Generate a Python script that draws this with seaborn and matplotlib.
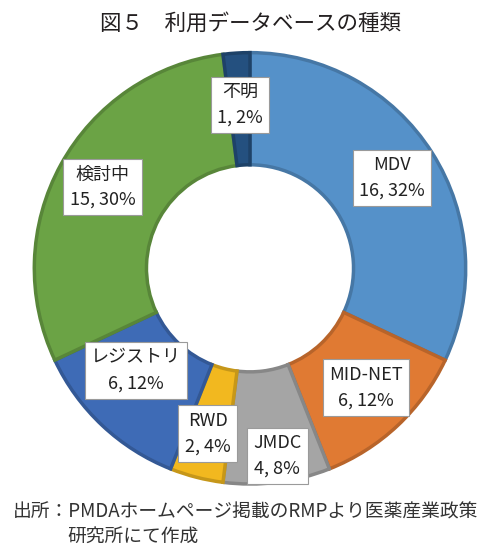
import matplotlib
matplotlib.use("Agg")
import matplotlib.pyplot as plt
import numpy as np
import seaborn as sns
from matplotlib.colors import to_rgb

# data, clockwise from 12 o'clock
categories = ["MDV", "MID-NET", "JMDC", "RWD", "レジストリ", "検討中", "不明"]
counts = [16, 6, 4, 2, 6, 15, 1]
colors = ["#5591C9", "#E07A33", "#A5A5A5", "#F2B81F", "#3E6BB6", "#6BA345", "#24507F"]
label_radius = [0.78, 0.77, 0.88, 0.79, 0.71, 0.78, 0.76]
label_shift_deg = [0, 1, 1, 0, -5, 0, 0]

sns.set_theme(style="white")
plt.rcParams["font.family"] = ["Noto Sans CJK JP", "DejaVu Sans"]

fig = plt.figure(figsize=(5.0, 5.59), dpi=100)
ax = fig.add_axes([0.06, 0.125, 0.88, 0.79])

def darker(c, f=0.82):
    r, g, b = to_rgb(c)
    return (r * f, g * f, b * f)

wedges, _ = ax.pie(counts, colors=colors, startangle=90, counterclock=False,
                   wedgeprops=dict(width=0.52, linewidth=2.5))
for w, c in zip(wedges, colors):
    w.set_edgecolor(darker(c))

total = sum(counts)
for w, cat, n, r, sh in zip(wedges, categories, counts, label_radius, label_shift_deg):
    ang = np.deg2rad((w.theta1 + w.theta2) / 2 + sh)
    txt = f"{cat}\n{n}, {round(100 * n / total)}%"
    ax.text(r * np.cos(ang), r * np.sin(ang), txt, ha="center", va="center",
            fontsize=13, color="#222222", linespacing=1.55,
            bbox=dict(boxstyle="square,pad=0.35", fc="white", ec="#9a9a9a", lw=0.8))

ax.set_aspect("equal")
ax.set_xlim(-1.02, 1.02)
ax.set_ylim(-1.02, 1.02)

fig.text(0.5, 0.957, "図５　利用データベースの種類", ha="center", va="center",
         fontsize=15.5, color="#231f20")
fig.text(0.025, 0.084, "出所：PMDAホームページ掲載のRMPより医薬産業政策", ha="left",
         va="center", fontsize=13.5, color="#333333")
fig.text(0.134, 0.039, "研究所にて作成", ha="left", va="center",
         fontsize=13.5, color="#333333")

fig.savefig("out.png", dpi=100, facecolor="white")
